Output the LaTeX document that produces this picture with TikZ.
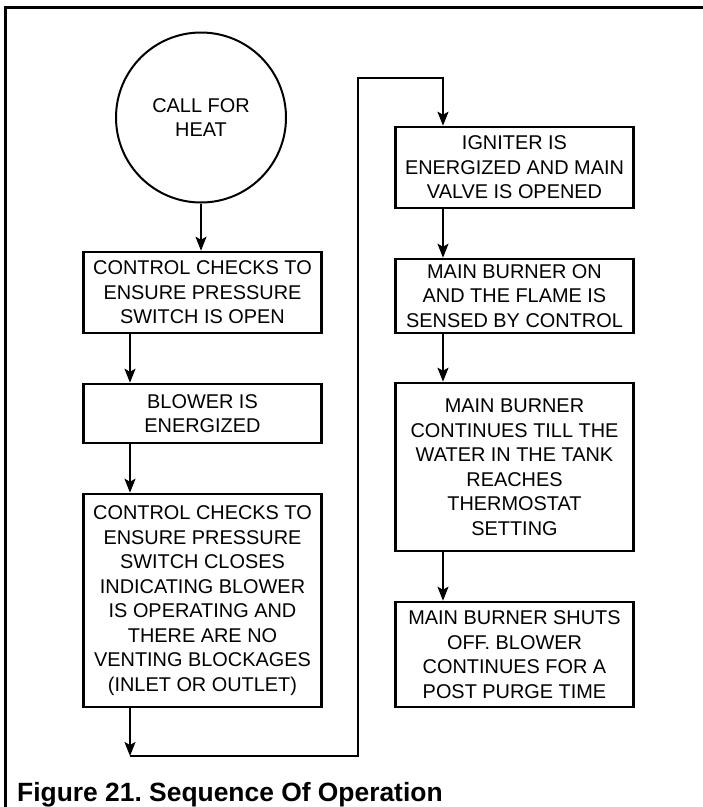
\documentclass[tikz,border=0pt]{standalone}
\usepackage{fontspec}
\setmainfont{Liberation Sans}
\usetikzlibrary{arrows.meta}
\frenchspacing
\begin{document}
\begin{tikzpicture}[x=1pt,y=-1pt,
  stepbox/.style={draw, line width=2.5pt, minimum width=238pt, inner sep=0pt, align=center, font=\fontsize{19.9}{24.5}\selectfont},
  arr/.style={line width=2pt, -{Stealth[length=14pt,width=11pt,inset=3pt]}},
  ln/.style={line width=2pt}]
\useasboundingbox (0,0) rectangle (703,807);
% frame
\draw[line width=3pt] (5.5,807) -- (5.5,7.5) -- (703,7.5);
% nodes
\node[circle, draw, line width=2pt, minimum size=170pt, inner sep=0pt, align=center, font=\fontsize{19.9}{24.5}\selectfont] (start) at (201,117.5) {CALL FOR\\HEAT};
\node[stepbox, minimum height=81pt] (b1) at (202.5,292.5) {CONTROL CHECKS TO\\ENSURE PRESSURE\\SWITCH IS OPEN};
\node[stepbox, minimum height=59pt] (b2) at (202.5,413.5) {BLOWER IS\\ENERGIZED};
\node[stepbox, minimum height=213pt] (b3) at (202.5,600.5) {CONTROL CHECKS TO\\ENSURE PRESSURE\\SWITCH CLOSES\\INDICATING BLOWER\\IS OPERATING AND\\THERE ARE NO\\VENTING BLOCKAGES\\(INLET OR OUTLET)};
\node[stepbox, minimum height=81pt] (b4) at (514.5,167.5) {IGNITER IS\\ENERGIZED AND MAIN\\VALVE IS OPENED};
\node[stepbox, minimum height=74pt] (b5) at (514.5,296) {MAIN BURNER ON\\AND THE FLAME IS\\SENSED BY CONTROL};
\node[stepbox, minimum height=168pt] (b6) at (514.5,467) {MAIN BURNER\\CONTINUES TILL THE\\WATER IN THE TANK\\REACHES\\THERMOSTAT\\SETTING};
\node[stepbox, minimum height=105pt] (b7) at (514.5,654.5) {MAIN BURNER SHUTS\\OFF. BLOWER\\CONTINUES FOR A\\POST PURGE TIME};
% connectors
\coordinate (c1) at (130,756);
\coordinate (c2) at (358,756);
\coordinate (c3) at (358,78);
\coordinate (c4) at (443,78);
\draw[arr] (start.south) -- (start.south |- b1.north);
\draw[arr] ([xshift=-72.5pt]b1.south) -- ([xshift=-72.5pt]b2.north);
\draw[arr] ([xshift=-72.5pt]b2.south) -- ([xshift=-72.5pt]b3.north);
\draw[arr] ([xshift=-72.5pt]b3.south) -- (c1);
\draw[arr] (c1) -- (c2) -- (c3) -- (c4) -- (c4 |- b4.north);
\draw[arr] ([xshift=-71.5pt]b4.south) -- ([xshift=-71.5pt]b5.north);
\draw[arr] ([xshift=-71.5pt]b5.south) -- ([xshift=-71.5pt]b6.north);
\draw[arr] ([xshift=-71.5pt]b6.south) -- ([xshift=-71.5pt]b7.north);
% caption
\node[anchor=base west, inner sep=0pt, font=\bfseries\fontsize{26.4}{30}\selectfont] (cap) at (17,801) {Figure 21. Sequence Of Operation};
\end{tikzpicture}
\end{document}
